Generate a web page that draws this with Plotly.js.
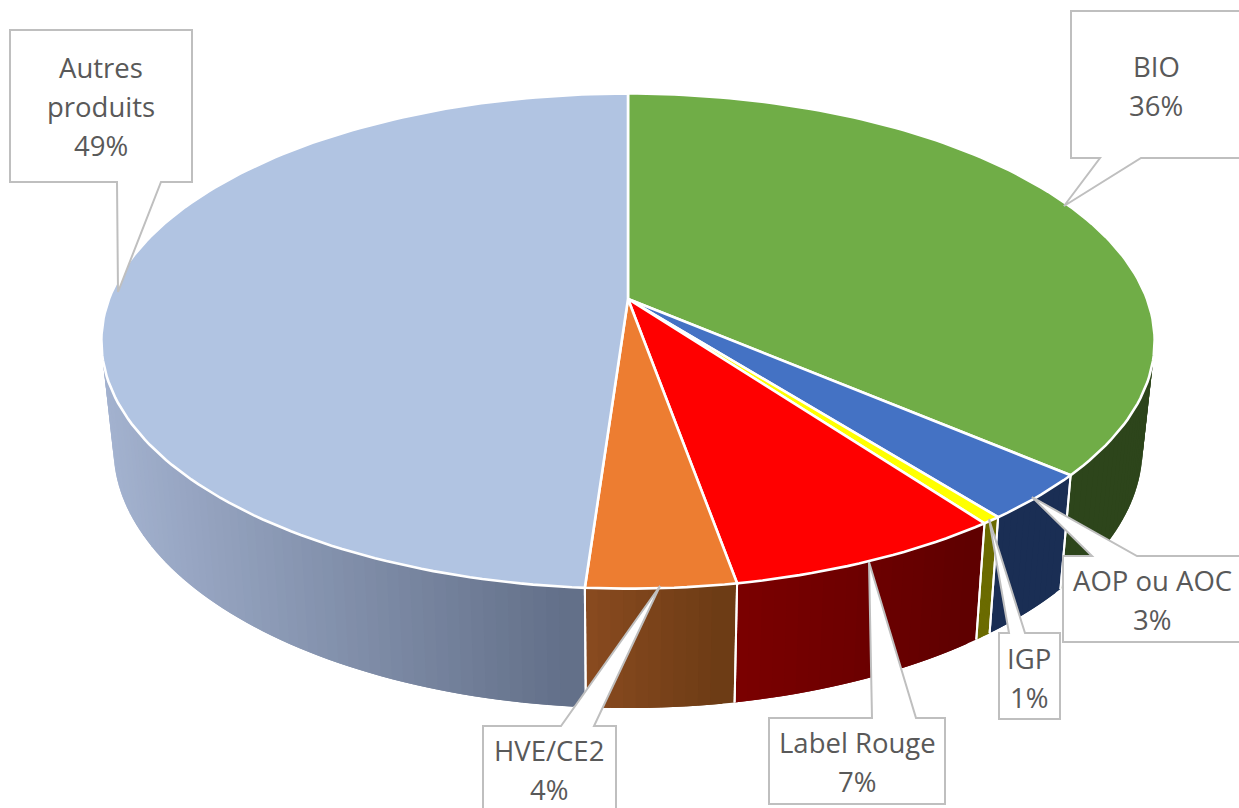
<!DOCTYPE html>
<html>
<head>
<meta charset="utf-8">
<script src="https://cdn.plot.ly/plotly-3.0.1.min.js"></script>
<style>html,body{margin:0;padding:0;background:#fff;overflow:hidden}#chart{width:1239px;height:808px}</style>
</head>
<body>
<div id="chart"></div>
<script>
// Data (clockwise from 12 o'clock)
const categories = ["BIO", "AOP ou AOC", "IGP", "Label Rouge", "HVE/CE2", "Autres produits"];
const values = [36.3, 3.1, 0.5, 7.3, 3.9, 48.9];
const percentLabels = ["36%", "3%", "1%", "7%", "4%", "49%"];
const labelLines = [["BIO"], ["AOP ou AOC"], ["IGP"], ["Label Rouge"], ["HVE/CE2"], ["Autres", "produits"]];

// Colours
const topColors = ["#70AD47", "#4472C4", "#FFFF00", "#FF0000", "#ED7D31", "#B1C4E2"];
const wallDark  = ["#2D451B", "#1A2E54", "#6B6B00", "#5E0000", "#6C3B14", "#626F88"];
const wallLight = ["#2D451B", "#1A2E54", "#6B6B00", "#7C0000", "#8C4C20", "#A3B2CF"];

// Callout layout, in chart pixels
const labelCenters = [[1156, 66], [1152, 580], [1029, 658], [857, 742], [549, 750], [101, 67]];
const lineGap = 39;
const callouts = [
  "M1071,11 L1245,11 L1245,158 L1141,158 L1064,206 L1100,158 L1071,158 Z",
  "M1063,556 L1092,556 L1032,497 L1137,556 L1245,556 L1245,642 L1063,642 Z",
  "M999,633 L1009,633 L989,519 L1025,633 L1060,633 L1060,719 L999,719 Z",
  "M769,718 L872,718 L869,562 L916,718 L945,718 L945,804 L769,804 Z",
  "M483,726 L561,726 L660,586 L594,726 L616,726 L616,815 L483,815 Z",
  "M10,30 L192,30 L192,182 L161,182 L118,292 L117,182 L10,182 Z"
];

// Perspective of the tilted disc
const cx = 628, apexY = 299, a = 519, b = 240.4, k = 0.17;
const wallScaleX = 0.977, wallScaleY = 1.05, wallApexY = 404;

function topRim(th) {
  const w = 1 + k * Math.cos(th);
  return [cx + a * Math.sin(th) / w, apexY - b * Math.cos(th) / w];
}
function bottomRim(th) {
  const p = topRim(th);
  return [cx + wallScaleX * (p[0] - cx), wallApexY + wallScaleY * (p[1] - apexY)];
}
function hexMix(c1, c2, t) {
  const v = (c, i) => parseInt(c.substr(1 + 2 * i, 2), 16);
  return "rgb(" + [0, 1, 2].map(i => Math.round(v(c1, i) + (v(c2, i) - v(c1, i)) * t)).join(",") + ")";
}

const total = values.reduce((s, v) => s + v, 0);
const walls = [], edges = [], tops = [];
let cum = 0;
values.forEach((val, i) => {
  const th0 = cum / total * 2 * Math.PI;
  cum += val;
  const th1 = cum / total * 2 * Math.PI;
  const nStrips = Math.max(12, Math.round(val * 3));
  // Each wall strip runs on under the next one, so no seam shows between strips.
  for (let s = nStrips - 1; s >= 0; s--) {
    const tA = th0 + (th1 - th0) * s / nStrips;
    const tB = th0 + (th1 - th0) * Math.min(nStrips, s + 2) / nStrips;
    const n = 4;
    const up = [], down = [];
    for (let j = 0; j <= n; j++) {
      const th = tA + (tB - tA) * j / n;
      up.push(topRim(th));
      down.unshift(bottomRim(th));
    }
    const pts = up.concat(down, [up[0]]);
    const tMid = th0 + (th1 - th0) * (s + 0.5) / nStrips;
    let t = (s + 0.5) / nStrips;
    if (i === 5) {
      // Autres produits: shading follows the horizontal position on the visible wall
      const xm = topRim(tMid)[0];
      t = tMid > 1.5 * Math.PI ? 1 : Math.min(1, Math.abs(xm - 583) / (583 - 105));
    }
    const col = hexMix(wallDark[i], wallLight[i], t);
    walls.push({
      type: "scatter", mode: "lines", x: pts.map(p => p[0]), y: pts.map(p => p[1]),
      fill: "toself", fillcolor: col, line: {color: col, width: 0},
      hoverinfo: "skip", showlegend: false, name: categories[i] + " (côté)"
    });
  }
  // white separators between walls
  [th0, th1].forEach(th => {
    const p = topRim(th), q = bottomRim(th);
    edges.push({
      type: "scatter", mode: "lines", x: [p[0], q[0]], y: [p[1], q[1]],
      line: {color: "#FFFFFF", width: 2}, hoverinfo: "skip", showlegend: false
    });
  });
  // top face
  const n = Math.max(6, Math.round(val * 3));
  const xs = [cx], ys = [apexY];
  for (let j = 0; j <= n; j++) {
    const p = topRim(th0 + (th1 - th0) * j / n);
    xs.push(p[0]); ys.push(p[1]);
  }
  xs.push(cx); ys.push(apexY);
  tops.push({
    type: "scatter", mode: "lines", x: xs, y: ys, fill: "toself",
    fillcolor: topColors[i], line: {color: "#FFFFFF", width: 2.6},
    name: categories[i], text: percentLabels[i], hoverinfo: "name+text", showlegend: false
  });
});

const shapes = callouts.map(path => ({
  type: "path", path: path, xref: "x", yref: "y",
  fillcolor: "#FFFFFF", line: {color: "#BFBFBF", width: 2}, layer: "above"
}));

const annotations = [];
categories.forEach((c, i) => {
  const lines = labelLines[i].concat([percentLabels[i]]);
  lines.forEach((txt, l) => {
    annotations.push({
      text: txt, x: labelCenters[i][0], y: labelCenters[i][1] + l * lineGap,
      xref: "x", yref: "y", xanchor: "center", yanchor: "middle", showarrow: false,
      font: {family: "'Open Sans', sans-serif", size: 27.5, color: "#595959"}
    });
  });
});

const layout = {
  width: 1239, height: 808,
  margin: {l: 0, r: 0, t: 0, b: 0},
  paper_bgcolor: "#FFFFFF", plot_bgcolor: "#FFFFFF",
  showlegend: false,
  xaxis: {range: [0, 1239], visible: false, fixedrange: true},
  yaxis: {range: [808, 0], visible: false, fixedrange: true},
  shapes: shapes, annotations: annotations
};
Plotly.newPlot("chart", walls.concat(edges, tops), layout, {displayModeBar: false, staticPlot: true});
</script>
</body>
</html>
